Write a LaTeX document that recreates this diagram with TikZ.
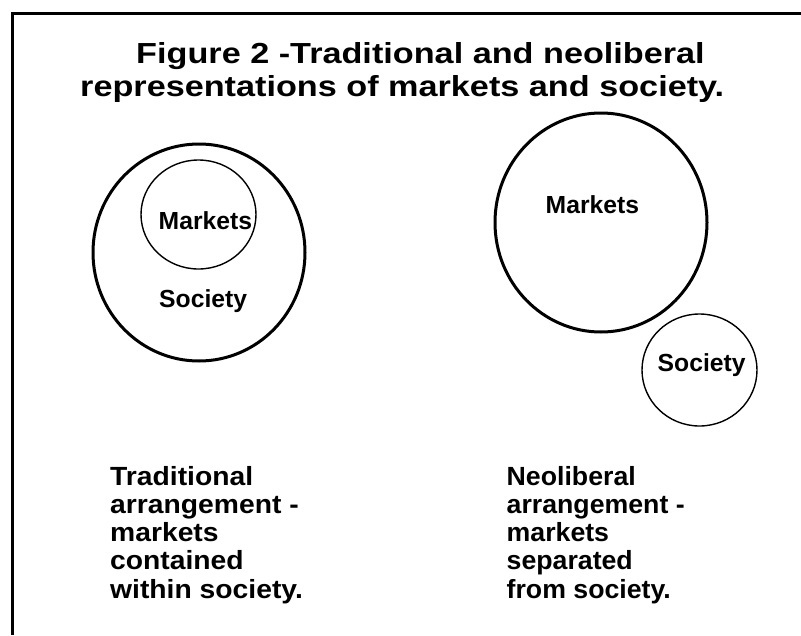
\documentclass[tikz,border=0pt]{standalone}
\usepackage{fontspec}
\setmainfont{Liberation Sans}
\newfontfamily\titlef{Liberation Sans}[FakeStretch=1.18]
\newfontfamily\leftf{Liberation Sans}[FakeStretch=1.075]
\newfontfamily\rightf{Liberation Sans}[FakeStretch=1.015]
\newcommand{\blocklines}[1]{\vtop{\baselineskip=28.25pt\lineskiplimit=-100pt\lineskip=0pt #1}}
\begin{document}
\begin{tikzpicture}[x=1pt,y=-1pt,
  frame/.style={line width=3pt},
  bigc/.style={line width=3pt},
  smallc/.style={line width=1.4pt},
  lab/.style={inner sep=0pt,anchor=base west,font=\fontsize{24.7}{28}\selectfont\bfseries},
  ttl/.style={inner sep=0pt,anchor=base west,font=\titlef\fontsize{29}{33}\selectfont\bfseries},
  blk/.style={inner sep=0pt,anchor=base west},
]
\useasboundingbox (0,0) rectangle (801,635);
% frame
\coordinate (tl) at (12.5,13.5);
\coordinate (tr) at (801,13.5);
\coordinate (bl) at (12.5,635);
\draw[frame] (tr) -- (tl) -- (bl);
% title
\node[ttl] (t1) at (136,63.3) {Figure 2 -Traditional and neoliberal};
\node[ttl] (t2) at (80,96) {representations of markets and society.};
% left diagram
\coordinate (lc) at (199,252.5);
\coordinate (lm) at (198.5,214.5);
\draw[bigc] (lc) ellipse [x radius=106, y radius=108.5];
\draw[smallc] (lm) ellipse [x radius=57.5, y radius=54.5];
\node[lab] (lmk) at (158.5,229) {Markets};
\node[lab] (lso) at (159,307) {Society};
% right diagram
\coordinate (rc) at (601,222.5);
\coordinate (rs) at (699.5,370);
\draw[bigc] (rc) ellipse [x radius=106, y radius=109.5];
\draw[smallc] (rs) ellipse [x radius=57.5, y radius=56];
\node[lab] (rmk) at (545.5,213) {Markets};
\node[lab] (rso) at (657.5,371) {Society};
% bottom texts
\node[blk] (lt) at (110,485) {\leftf\fontsize{26.3}{28.25}\selectfont\bfseries\blocklines{\hbox{Traditional}\hbox{arrangement -}\hbox{markets}\hbox{contained}\hbox{within society.}}};
\node[blk] (rt) at (506.5,485) {\rightf\fontsize{26.3}{28.25}\selectfont\bfseries\blocklines{\hbox{Neoliberal}\hbox{arrangement -}\hbox{markets}\hbox{separated}\hbox{from society.}}};
\end{tikzpicture}
\end{document}
